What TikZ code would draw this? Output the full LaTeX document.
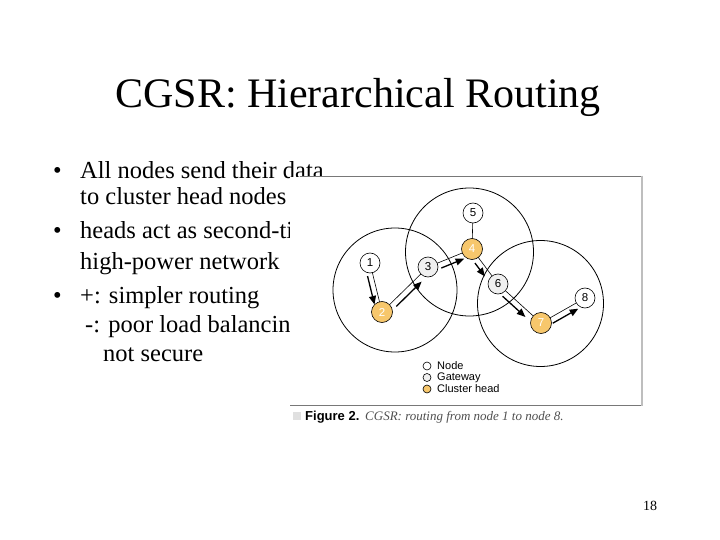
\documentclass[tikz,border=0pt]{standalone}
\usepackage{fontspec}
\setmainfont{Liberation Serif}
\newfontfamily\figfont{Liberation Sans}
\usetikzlibrary{calc,arrows.meta}
\definecolor{headorange}{RGB}{247,199,108}
\definecolor{frameline}{RGB}{120,120,120}
\definecolor{frameedge}{RGB}{190,190,190}
\definecolor{capgray}{RGB}{80,80,80}
\tikzset{
  txt/.style={anchor=base west,inner sep=0pt,font=\fontsize{24.5}{28}\selectfont},
  bul/.style={anchor=base west,inner sep=0pt,font=\fontsize{24.5}{28}\selectfont},
  cluster/.style={draw=black,line width=0.8pt},
  plain/.style={circle,draw=black,line width=0.6pt,fill=white,minimum size=20pt,inner sep=0pt,font=\figfont\fontsize{11.5}{11.5}\selectfont},
  gateway/.style={plain,fill=black!6},
  chead/.style={plain,fill=headorange,minimum size=21pt,text=white},
  link/.style={line width=0.6pt},
  route/.style={line width=1.3pt,-{Triangle[length=8.5pt,width=7pt]}},
  legdot/.style={circle,draw=black,line width=0.6pt,minimum size=8pt,inner sep=0pt},
  legtxt/.style={anchor=west,inner sep=0pt,font=\figfont\fontsize{11}{11}\selectfont}
}
\newcommand{\routeArrow}[5]{% from, to, offset, start, end
  \draw[route] ($(#1)!#4!(#2)!#3!-90:(#2)$) -- ($(#1)!#5!(#2)!#3!-90:(#2)$);}
\begin{document}
\begin{tikzpicture}[x=1pt,y=-1pt]
\useasboundingbox[fill=white] (0,0) rectangle (720,540);
% title
\node[anchor=base,inner sep=0pt,font=\fontsize{42}{48}\selectfont] (title) at (358,108) {CGSR: Hierarchical Routing};
% bullets
\node[bul] (b1) at (53,179) {\textbullet};
\node[txt] (l1) at (80,179) {All nodes send their data};
\node[txt] (l2) at (80,205) {to cluster head nodes};
\node[bul] (b2) at (53,239) {\textbullet};
\node[txt] (l3) at (80,239) {heads act as second-tier};
\node[txt] (l4) at (80,269) {high-power network};
\node[bul] (b3) at (53,303) {\textbullet};
\node[txt] (l5) at (80,303) {+: simpler routing};
\node[txt] (l6) at (85,332) {-: poor load balancing};
\node[txt] (l7) at (103,361) {not secure};
% slide number
\node[anchor=base west,inner sep=0pt,font=\fontsize{14}{14}\selectfont] (num) at (643,510) {18};
% figure panel
\fill[white] (290,177) rectangle (641,404.5);
\draw[frameline,line width=1pt] (300,176.5) -- (641,176.5);
\draw[frameline,line width=1pt] (290,405) -- (641,405);
\draw[frameedge,line width=2.5pt] (642,176) -- (642,405.5);
% clusters
\draw[cluster] (395,290) circle (62);
\draw[cluster] (469.5,252) circle (64);
\draw[cluster] (540.5,303.5) circle (63);
% node coordinates
\coordinate (p1) at (370,263);
\coordinate (p2) at (382,312);
\coordinate (p3) at (428,267);
\coordinate (p4) at (472,249);
\coordinate (p5) at (473,213);
\coordinate (p6) at (498,284);
\coordinate (p7) at (541,323);
\coordinate (p8) at (585,298);
% links
\draw[link] (p1) -- (p2);
\draw[link] (p2) -- (p3);
\draw[link] (p3) -- (p4);
\draw[link] (p4) -- (p5);
\draw[link] (p4) -- (p6);
\draw[link] (p6) -- (p7);
\draw[link] (p7) -- (p8);
% route arrows
\routeArrow{p1}{p2}{5.5pt}{0.24}{0.82}
\routeArrow{p2}{p3}{6pt}{0.22}{0.77}
\routeArrow{p3}{p4}{6pt}{0.25}{0.77}
\routeArrow{p4}{p6}{6pt}{0.3}{0.68}
\routeArrow{p6}{p7}{6pt}{0.2}{0.73}
\routeArrow{p7}{p8}{6pt}{0.2}{0.78}
% nodes
\node[plain] (n1) at (p1) {1};
\node[chead] (n2) at (p2) {2};
\node[gateway] (n3) at (p3) {3};
\node[chead] (n4) at (p4) {4};
\node[plain] (n5) at (p5) {5};
\node[gateway] (n6) at (p6) {6};
\node[chead] (n7) at (p7) {7};
\node[plain] (n8) at (p8) {8};
% legend
\node[legdot,fill=white] (k1) at (427,366) {};
\node[legdot,fill=black!6] (k2) at (427,377.5) {};
\node[legdot,fill=headorange] (k3) at (427,389) {};
\node[legtxt] (t1) at (437,366) {Node};
\node[legtxt] (t2) at (437,377.5) {Gateway};
\node[legtxt] (t3) at (437,389) {Cluster head};
% caption
\fill[black!12] (293,411.5) rectangle (301,419.5);
\node[anchor=base west,inner sep=0pt,font=\figfont\bfseries\fontsize{13}{13}\selectfont] (cap1) at (305,420) {Figure 2.};
\node[anchor=base west,inner sep=0pt,text=capgray,font=\itshape\fontsize{13}{13}\selectfont] (cap2) at (365,420) {CGSR: routing from node 1 to node 8.};
\end{tikzpicture}
\end{document}
